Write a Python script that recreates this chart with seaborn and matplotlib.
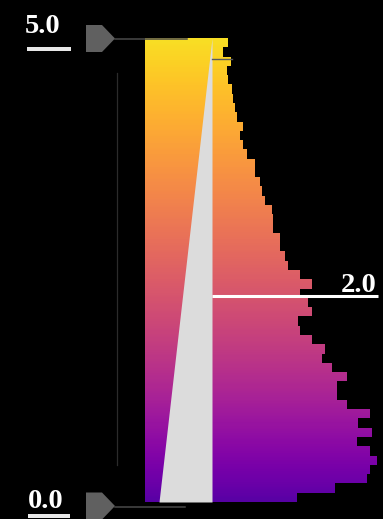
import numpy as np
import pandas as pd
import matplotlib
matplotlib.use("Agg")
import matplotlib.pyplot as plt
import seaborn as sns
from matplotlib.path import Path
from matplotlib.colors import ListedColormap
from matplotlib.patches import Polygon, Rectangle

# ---------------- data ----------------
value_min = 0.0
value_max = 5.0
bin_width = 0.1
# histogram counts, bottom bin (0.0-0.1) to top bin (4.9-5.0)
counts = [85, 123, 155, 158, 165, 158, 145, 160, 146, 158,
          135, 125, 125, 135, 120, 110, 113, 100, 88, 86,
          100, 96, 88, 100, 88, 76, 73, 68, 68, 61,
          61, 60, 53, 50, 48, 43, 43, 35, 31, 28,
          31, 25, 23, 21, 20, 16, 15, 19, 11, 16]
top_label = "5.0"
bottom_label = "0.0"
gamma_label = "2.0"
gamma_marker = 2.22
small_marker = 4.77

# ---------------- figure ----------------
W, H = 383, 519
fig = plt.figure(figsize=(W / 100, H / 100), dpi=100, facecolor="black")
ax = fig.add_axes([145 / W, (H - 502) / H, (W - 145) / W, 464 / H])
ax.set_facecolor("black")

edges = np.round(np.arange(value_min, value_max + bin_width / 2, bin_width), 3)
centers = (edges[:-1] + edges[1:]) / 2
df = pd.DataFrame({"value": centers, "count": counts})

sns.histplot(data=df, y="value", weights="count", bins=len(counts),
             binrange=(value_min, value_max), element="bars",
             fill=True, ax=ax, linewidth=0)
bars = list(ax.patches)
paths = [b.get_path().transformed(b.get_patch_transform()) for b in bars]
clip = Path.make_compound_path(*paths)
for b in bars:
    b.set_visible(False)

base = plt.get_cmap("plasma")
cmap = ListedColormap(base(0.15 + 0.79 * np.linspace(0, 1, 256) ** 0.85))
grad = np.linspace(0, 1, 512).reshape(-1, 1)
ax.imshow(grad, extent=(-67, 0, value_min, value_max), origin="lower",
          aspect="auto", cmap=cmap, zorder=1)
im = ax.imshow(grad, extent=(0, 171, value_min, value_max), origin="lower",
               aspect="auto", cmap=cmap, zorder=1)
im.set_clip_path(clip, ax.transData)

# gamma triangle
ax.fill_betweenx([value_min, value_max], [-53, 0], 0, color="#dcdcdc", lw=0, zorder=2)
# gamma marker line
ax.plot([0, 166], [gamma_marker, gamma_marker], color="white", lw=2.2,
        solid_capstyle="butt", zorder=3, clip_on=False)
ax.plot([0, 20], [small_marker, small_marker], color="#5a5a5a", lw=1, zorder=3)

ax.set_xlim(-67, 171)
ax.set_ylim(value_min, value_max)
ax.axis("off")

# ---------------- decorations (pixel overlay) ----------------
bg = fig.add_axes([0, 0, 1, 1], zorder=5)
bg.set_xlim(0, W)
bg.set_ylim(H, 0)
bg.axis("off")
bg.patch.set_visible(False)


def py(v):
    return H - ax.transData.transform((0, v))[1]


y5 = py(value_max)
y0 = py(value_min)
yg = py(gamma_marker)


def handle(cy):
    verts = [(86, cy - 13.5), (102, cy - 13.5), (115, cy), (102, cy + 13.5), (86, cy + 13.5)]
    bg.add_patch(Polygon(verts, closed=True, facecolor="#606060", edgecolor="none"))


handle(y5 + 0.5)
handle(y0 + 4)
bg.plot([115, 187], [y5 + 1, y5 + 1], color="#4a4a4a", lw=1.1)
bg.plot([115, 185], [y0 + 5, y0 + 5], color="#4a4a4a", lw=1.1)
bg.plot([117, 117], [y5 + 35, y0 - 37], color="#2b2b2b", lw=0.9)

font = dict(family="Liberation Serif", weight="bold", size=20.5, color="white")
bg.text(25, y5 - 5, top_label, ha="left", va="baseline", **font)
bg.add_patch(Rectangle((27, y5 + 9), 44, 4.5, facecolor="#e8e8e8", edgecolor="none"))
bg.text(28, y0 + 6, bottom_label, ha="left", va="baseline", **font)
bg.add_patch(Rectangle((28, y0 + 12), 42, 3.5, facecolor="#e8e8e8", edgecolor="none"))

bg.add_patch(Rectangle((320, yg - 24), 63, 21, facecolor="black", edgecolor="none"))
bg.text(377, yg - 4, gamma_label, ha="right", va="baseline", **font)

fig.savefig("out.png", dpi=100, facecolor="black")
